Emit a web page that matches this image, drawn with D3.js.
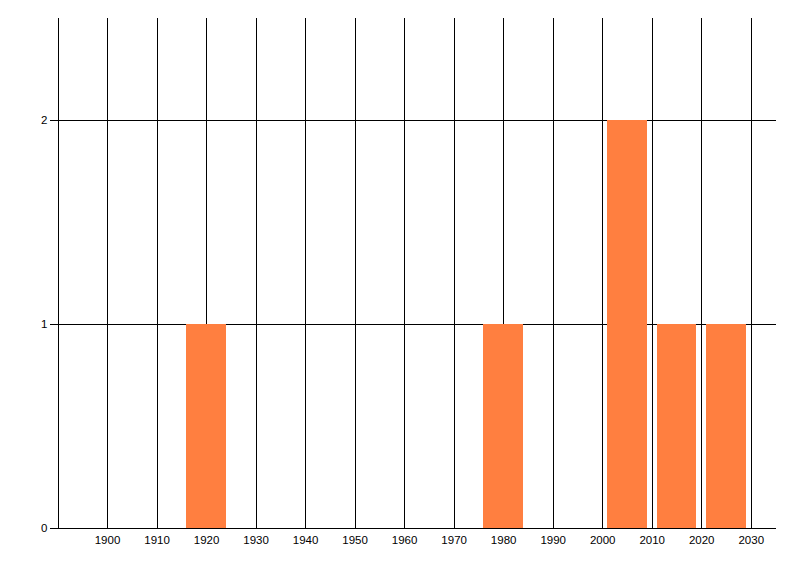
<!DOCTYPE html>
<meta charset="utf-8">
<style>
html, body { margin: 0; background: #fff; }
.grid line, .grid path { stroke: #000; stroke-width: 1; shape-rendering: crispEdges; }
.grid text { display: none; }
.axis path, .axis line { stroke: #000; stroke-width: 1; shape-rendering: crispEdges; }
.axis text { fill: #000; font-family: "Liberation Sans", Arial, sans-serif; font-size: 11.5px; }
.bar { fill: #ff7f40; shape-rendering: crispEdges; }
</style>
<body></body>
<script src="https://d3js.org/d3.v7.min.js"></script>
<script>
// data
var centers = [1920, 1980, 2005, 2015, 2025];
var counts = [1, 1, 2, 1, 1];
var xTicks = [1900, 1910, 1920, 1930, 1940, 1950, 1960, 1970, 1980, 1990, 2000, 2010, 2020, 2030];
var yTicks = [0, 1, 2];
var barHalf = 4; // years either side of the centre

var W = 800, H = 576;
var margin = {top: 17.5, right: 24.5, bottom: 48.5, left: 57.5};
var width = W - margin.left - margin.right,
    height = H - margin.top - margin.bottom;

var x = d3.scaleLinear().domain([1890, 2035]).range([0, width]);
var y = d3.scaleLinear().domain([0, 2.5]).range([height, 0]);

var svg = d3.select("body").append("svg")
    .attr("width", W)
    .attr("height", H)
  .append("g")
    .attr("transform", "translate(" + margin.left + "," + margin.top + ")");

// vertical grid lines
svg.append("g")
    .attr("class", "grid")
    .attr("transform", "translate(0," + height + ")")
    .call(d3.axisBottom(x).tickValues(xTicks).tickSize(-height).tickFormat(""))
    .select(".domain").remove();

// horizontal grid lines
svg.append("g")
    .attr("class", "grid")
    .call(d3.axisLeft(y).tickValues(yTicks.slice(1)).tickSize(-width).tickFormat(""))
    .select(".domain").remove();

// bars
svg.selectAll(".bar")
    .data(centers)
  .enter().append("rect")
    .attr("class", "bar")
    .attr("x", function(d) { return x(d - barHalf); })
    .attr("width", function(d) { return x(d + barHalf) - x(d - barHalf); })
    .attr("y", function(d, i) { return y(counts[i]); })
    .attr("height", function(d, i) { return y(0) - y(counts[i]); });

// x axis
svg.append("g")
    .attr("class", "axis")
    .attr("transform", "translate(0," + height + ")")
    .call(d3.axisBottom(x).tickValues(xTicks).tickSize(0).tickSizeOuter(0).tickPadding(8).tickFormat(d3.format("d")));

// y axis
svg.append("g")
    .attr("class", "axis")
    .call(d3.axisLeft(y).tickValues(yTicks).tickSize(8).tickSizeOuter(0).tickPadding(2).tickFormat(d3.format("d")));
</script>
